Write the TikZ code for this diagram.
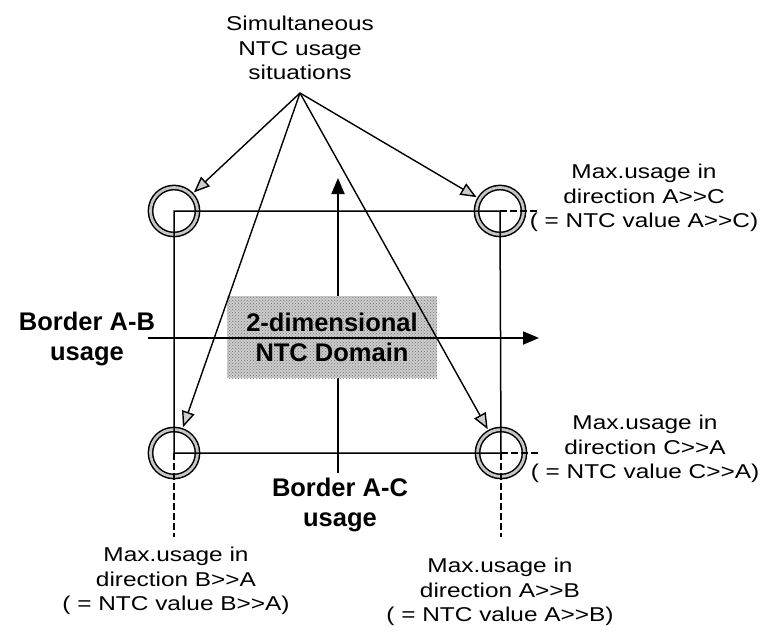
\documentclass[tikz,border=0pt]{standalone}
\usepackage{fontspec}
\setmainfont{Liberation Sans}
\newfontfamily\wideface[FakeStretch=1.22]{Liberation Sans}
\usetikzlibrary{arrows.meta,patterns}

\begin{document}
\begin{tikzpicture}[x=1pt,y=-1pt,line cap=butt,line join=miter,
	ring/.style={circle,draw,line width=1.5pt,double=gray!45,double distance=2.8pt,minimum size=47pt,inner sep=0pt},
	frame/.style={line width=1.5pt},
	proj/.style={line width=1.2pt,dash pattern=on 7pt off 3pt},
	axis/.style={line width=1.8pt,-{Triangle[length=16pt,width=13pt]}},
	pointer/.style={line width=1.4pt,-{Triangle[length=16pt,width=13pt,fill=gray!40]},shorten >=3pt},
	note/.style={font=\wideface\fontsize{20}{24.5}\selectfont,align=center},
	heading/.style={font=\fontsize{25.5}{30}\selectfont\bfseries,align=center},
	dombox/.style={heading,fill=gray!40,postaction={pattern=crosshatch dots,pattern color=gray!90!black},minimum width=210pt,minimum height=82pt,inner sep=0pt}]
	\useasboundingbox (0,0) rectangle (763,632);
	% corners of the domain
	\node[ring] (tl) at (174,211) {};
	\node[ring] (tr) at (500,211) {};
	\node[ring] (bl) at (174,453) {};
	\node[ring] (br) at (501,453) {};
	\draw[frame] (tl.center) -- (tr.center) -- (br.center) -- (bl.center) -- cycle;
	\coordinate (trx) at (537,211);
	\coordinate (brx) at (538,453);
	\coordinate (bly) at (174,537);
	\coordinate (bry) at (501,537);
	\draw[proj] (tr.center) -- (trx) (br.center) -- (brx)
		(bl.center) -- (bly) (br.center) -- (bry);
	% axes
	\coordinate (ybot) at (338,473);
	\coordinate (ytop) at (338,178);
	\draw[axis] (ybot) -- (ytop);
	\node[dombox] (dom) at (332,337) {2-dimensional\\NTC Domain};
	\coordinate (xl) at (148,338);
	\coordinate (xr) at (539,338);
	\draw[axis] (xl) -- (xr);
	% usage situations
	\node[note] (sim) at (300,48) {Simultaneous\\NTC usage\\situations};
	\coordinate (src) at (300,93);
	\foreach \c in {tl,tr,bl,br}
		\draw[pointer] (src) -- (\c);
	% labels
	\node[heading] (borderAB) at (87,339) {Border A-B\\usage};
	\node[heading] (borderAC) at (340,505) {Border A-C\\usage};
	\node[note] (maxAC) at (644,198) {Max.usage in\\direction A>>C\\( = NTC value A>>C)};
	\node[note] (maxCA) at (645,449) {Max.usage in\\direction C>>A\\( = NTC value C>>A)};
	\node[note] (maxBA) at (176,581) {Max.usage in\\direction B>>A\\( = NTC value B>>A)};
	\node[note] (maxAB) at (500,592) {Max.usage in\\direction A>>B\\( = NTC value A>>B)};
\end{tikzpicture}
\end{document}
